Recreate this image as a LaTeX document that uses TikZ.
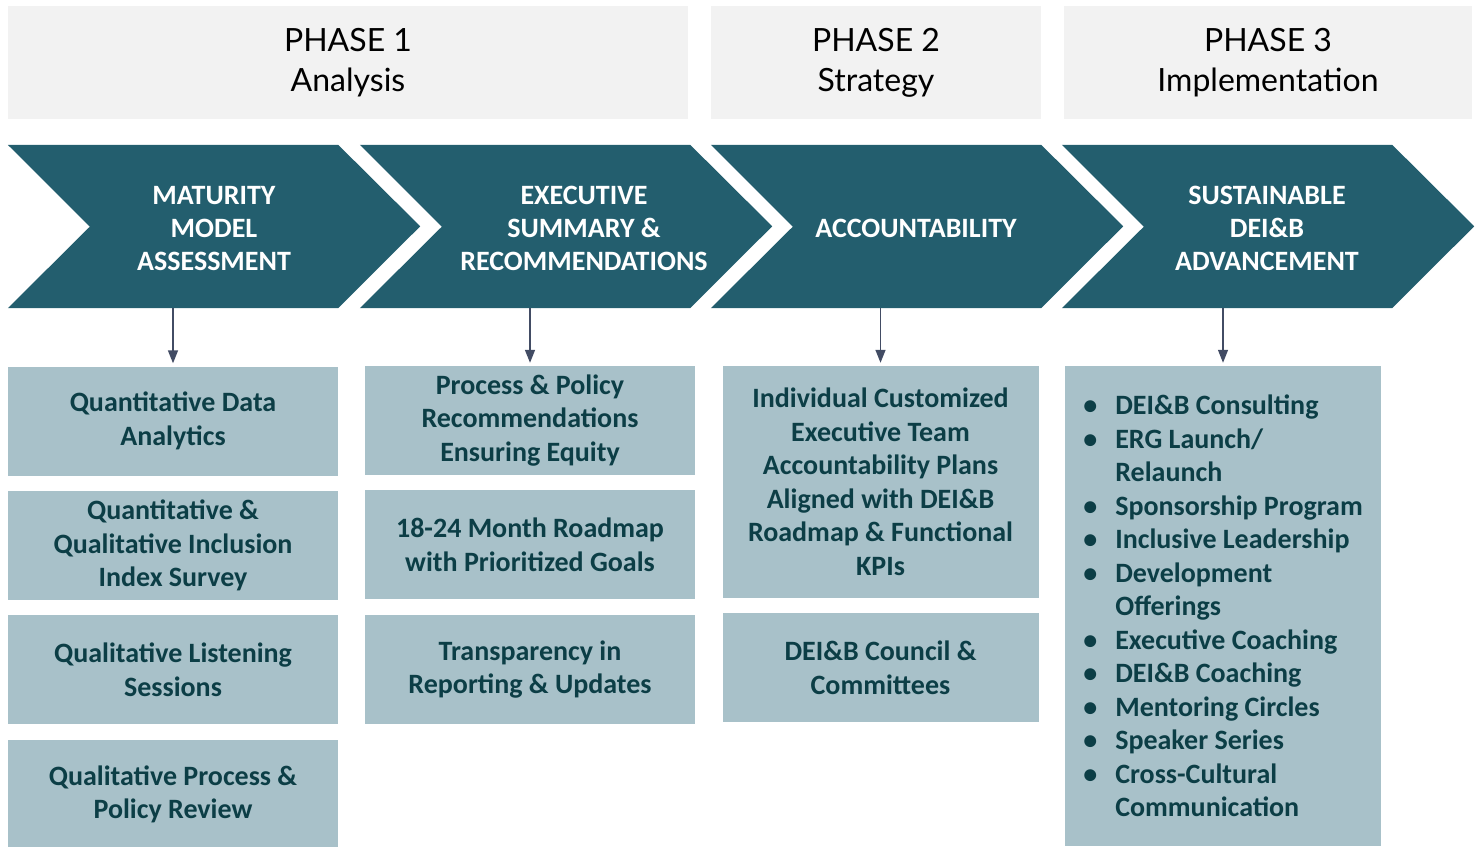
\documentclass[tikz,border=0pt]{standalone}
\usepackage{fontspec}
\setmainfont{Carlito}
\newfontfamily\phasefont{Lato}
\usepackage{xcolor}
\usetikzlibrary{positioning}
\usetikzlibrary{arrows.meta}
\usetikzlibrary{backgrounds}

\definecolor{chevteal}{RGB}{35,94,110}
\definecolor{boxblue}{RGB}{168,193,201}
\definecolor{boxtext}{RGB}{12,62,70}
\definecolor{headgray}{RGB}{242,242,242}
\definecolor{flowgray}{RGB}{66,76,100}

\newcommand{\bul}{\makebox[32pt][l]{\textbullet}}
\newcommand{\ind}{\hspace*{32pt}}

\begin{document}
\begin{tikzpicture}[x=1pt, y=-1pt, >={Triangle[length=13pt, width=10pt]}]
    \tikzstyle{phase}=[fill=headgray, minimum height=113pt, inner sep=0pt, align=center, font=\phasefont\fontsize{32}{40}\selectfont]
    \tikzstyle{chev}=[minimum width=330pt, minimum height=163pt, inner sep=0pt]
    \tikzstyle{chevlabel}=[inner sep=0pt, align=center, text=white, font=\bfseries\fontsize{28}{33}\selectfont]
    \tikzstyle{taskbox}=[fill=boxblue, minimum width=330pt, minimum height=109pt, inner sep=0pt, align=center, text=boxtext, font=\bfseries\fontsize{28}{33.5}\selectfont]
    \tikzstyle{flow}=[->, draw=flowgray, fill=flowgray, line width=1.4pt, shorten >=3pt]
    \tikzstyle{chevfill}=[fill=chevteal]

    \useasboundingbox (0,0) rectangle (1477,846);

    % phase headers
    \node[phase, minimum width=680pt] (ph1) at (348,62.5) {PHASE 1\\Analysis};
    \node[phase, minimum width=330pt] (ph2) at (876,62.5) {PHASE 2\\Strategy};
    \node[phase, minimum width=408pt] (ph3) at (1268,62.5) {PHASE 3\\Implementation};

    % chevrons
    \node[chev] (mma) at (173,226.5) {};
    \node[chev] (exs) at (525,226.5) {};
    \node[chev] (acc) at (876,226.5) {};
    \node[chev] (sus) at (1227,226.5) {};
    \begin{scope}[on background layer]
        \foreach \c in {mma, exs, acc, sus}
            \fill[chevfill] (\c.north west) -- (\c.north east) -- ++(82,81.5) -- (\c.south east)
                -- (\c.south west) -- ++(82,-81.5) -- cycle;
    \end{scope}
    \node[chevlabel] (mmalabel) at ([xshift=41pt, yshift=-2pt]mma.center) {MATURITY\\MODEL\\ASSESSMENT};
    \node[chevlabel] (exslabel) at ([xshift=59pt, yshift=-2pt]exs.center) {EXECUTIVE\\SUMMARY \&\\RECOMMENDATIONS};
    \node[chevlabel] (acclabel) at ([xshift=40pt, yshift=-2pt]acc.center) {ACCOUNTABILITY};
    \node[chevlabel] (suslabel) at ([xshift=40pt, yshift=-2pt]sus.center) {SUSTAINABLE\\DEI\&B\\ADVANCEMENT};

    % phase 1 analysis
    \node[taskbox] (quant) at (173,421) {Quantitative Data\\Analytics};
    \node[taskbox, below=15pt of quant] (survey) {Quantitative \&\\Qualitative Inclusion\\Index Survey};
    \node[taskbox, below=15pt of survey] (listen) {Qualitative Listening\\Sessions};
    \node[taskbox, below=15pt of listen] (review) {Qualitative Process \&\\Policy Review};

    % executive summary
    \node[taskbox] (policy) at (530,420.5) {Process \& Policy\\Recommendations\\Ensuring Equity};
    \node[taskbox, below=15pt of policy] (roadmap) {18-24 Month Roadmap\\with Prioritized Goals};
    \node[taskbox, below=15pt of roadmap] (report) {Transparency in\\Reporting \& Updates};

    % accountability
    \node[taskbox, minimum width=316pt, minimum height=232pt] (plans) at (880.5,482) {Individual Customized\\Executive Team\\Accountability Plans\\Aligned with DEI\&B\\Roadmap \& Functional\\KPIs};
    \node[taskbox, minimum width=316pt, below=15pt of plans] (council) {DEI\&B Council \&\\Committees};

    % advancement
    \node[taskbox, minimum width=316pt, minimum height=480pt, align=left] (offer) at (1223,606) {%
        \bul DEI\&B Consulting\\
        \bul ERG Launch/\\
        \ind Relaunch\\
        \bul Sponsorship Program\\
        \bul Inclusive Leadership\\
        \bul Development\\
        \ind Offerings\\
        \bul Executive Coaching\\
        \bul DEI\&B Coaching\\
        \bul Mentoring Circles\\
        \bul Speaker Series\\
        \bul Cross-Cultural\\
        \ind Communication};

    \draw[flow] (mma.south -| quant.north) -- (quant.north);
    \draw[flow] (exs.south -| policy.north) -- (policy.north);
    \draw[flow] (acc.south -| plans.north) -- (plans.north);
    \draw[flow] (sus.south -| offer.north) -- (offer.north);

\end{tikzpicture}
\end{document}
